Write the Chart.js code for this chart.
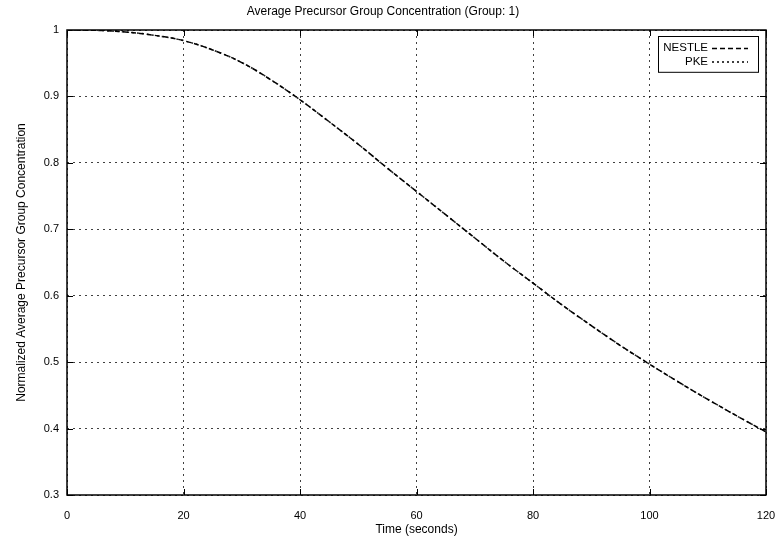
<!DOCTYPE html>
<html>
<head>
<meta charset="utf-8">
<script src="https://cdn.jsdelivr.net/npm/chart.js@4"></script>
<style>
  body { margin: 0; background: #fff; }
  canvas { display: block; }
</style>
</head>
<body>
<canvas id="chart" width="778" height="544"></canvas>
<script>
// Data
const timeSeconds = [0, 5, 10, 15, 20, 25, 30, 35, 40, 45, 50, 55, 60, 65, 70, 75, 80, 85, 90, 95, 100, 105, 110, 115, 120];
const nestleValues = [1.000, 0.9995, 0.997, 0.992, 0.984, 0.970, 0.951, 0.925, 0.895, 0.862, 0.828, 0.792, 0.757, 0.722, 0.687, 0.652, 0.619, 0.586, 0.555, 0.525, 0.497, 0.470, 0.444, 0.419, 0.395];
const pkeValues = [1.000, 0.9995, 0.997, 0.992, 0.984, 0.970, 0.951, 0.925, 0.895, 0.862, 0.828, 0.792, 0.757, 0.722, 0.687, 0.652, 0.619, 0.586, 0.555, 0.525, 0.497, 0.470, 0.444, 0.419, 0.395];
const xTickValues = [0, 20, 40, 60, 80, 100, 120];
const yTickValues = [0.3, 0.4, 0.5, 0.6, 0.7, 0.8, 0.9, 1];

const FONT = "'Liberation Sans', Arial, Helvetica, sans-serif";

function toPoints(xs, ys) {
    return xs.map((x, i) => ({ x: x, y: ys[i] }));
}

// Frame around the plot plus gnuplot-style inward ticks
const frameAndTicks = {
    id: "frameAndTicks",
    beforeDatasetsDraw(chart) {
        const { ctx, chartArea: a, scales } = chart;
        ctx.save();
        ctx.strokeStyle = "#000";
        ctx.lineWidth = 1.5;
        ctx.setLineDash([]);
        ctx.strokeRect(a.left, a.top, a.right - a.left, a.bottom - a.top);
        ctx.lineWidth = 1;
        const len = 6;
        ctx.beginPath();
        xTickValues.forEach((v) => {
            const px = Math.round(scales.x.getPixelForValue(v)) + 0.5;
            ctx.moveTo(px, a.bottom);
            ctx.lineTo(px, a.bottom - len);
            ctx.moveTo(px, a.top);
            ctx.lineTo(px, a.top + len);
        });
        yTickValues.forEach((v) => {
            const py = Math.round(scales.y.getPixelForValue(v)) + 0.5;
            ctx.moveTo(a.left, py);
            ctx.lineTo(a.left + len, py);
            ctx.moveTo(a.right, py);
            ctx.lineTo(a.right - len, py);
        });
        ctx.stroke();
        ctx.restore();
    },
};

// Legend box in the top right corner: label, then line sample
const keyBox = {
    id: "keyBox",
    afterDraw(chart) {
        const { ctx, chartArea: a } = chart;
        const boxRight = a.right - 8;
        const boxLeft = boxRight - 100;
        const boxTop = a.top + 6;
        const rowH = 13.4;
        const sets = chart.data.datasets;
        ctx.save();
        ctx.strokeStyle = "#000";
        ctx.lineWidth = 1;
        ctx.setLineDash([]);
        ctx.fillStyle = "#fff";
        ctx.fillRect(boxLeft, boxTop, boxRight - boxLeft, rowH * sets.length + 9);
        ctx.strokeRect(boxLeft + 0.5, boxTop + 0.5, boxRight - boxLeft, rowH * sets.length + 9);
        ctx.font = "11.5px " + FONT;
        ctx.textAlign = "right";
        ctx.textBaseline = "middle";
        sets.forEach((ds, i) => {
            const y = boxTop + 12 + i * rowH;
            ctx.fillStyle = "#000";
            ctx.fillText(ds.label, boxRight - 50, y);
            ctx.beginPath();
            ctx.setLineDash(ds.borderDash);
            ctx.lineWidth = ds.borderWidth;
            ctx.moveTo(boxRight - 46, y + 0.5);
            ctx.lineTo(boxRight - 10, y + 0.5);
            ctx.stroke();
        });
        ctx.restore();
    },
};

const chart = new Chart(document.getElementById("chart"), {
    type: "line",
    data: {
        datasets: [
            {
                label: "NESTLE",
                data: toPoints(timeSeconds, nestleValues),
                borderColor: "#000",
                borderWidth: 1.5,
                borderDash: [5, 3],
                pointRadius: 0,
                tension: 0.4,
                fill: false,
            },
            {
                label: "PKE",
                data: toPoints(timeSeconds, pkeValues),
                borderColor: "#222",
                borderWidth: 1.5,
                borderDash: [2, 3],
                pointRadius: 0,
                tension: 0.4,
                fill: false,
            },
        ],
    },
    options: {
        responsive: false,
        animation: false,
        layout: { padding: { left: 0, right: 12, top: 0, bottom: 0 } },
        plugins: {
            legend: { display: false },
            tooltip: { enabled: false },
            title: {
                display: true,
                text: "Average Precursor Group Concentration (Group: 1)",
                color: "#000",
                font: { family: FONT, size: 12, weight: "normal", lineHeight: 1.2 },
                padding: { top: 4, bottom: 11.6 },
            },
        },
        scales: {
            x: {
                type: "linear",
                min: 0,
                max: 120,
                afterBuildTicks: (scale) => {
                    scale.ticks = xTickValues.map((v) => ({ value: v }));
                },
                afterFit: (scale) => {
                    scale.height = 49;
                    scale.paddingLeft = 0;
                    scale.paddingRight = 0;
                },
                grid: { color: "rgba(0,0,0,0.75)", lineWidth: 1, drawTicks: false },
                border: { display: false, dash: [2, 4] },
                ticks: { color: "#000", padding: 14, maxRotation: 0, font: { family: FONT, size: 11 } },
                title: {
                    display: true,
                    text: "Time (seconds)",
                    color: "#000",
                    font: { family: FONT, size: 12 },
                    padding: { top: 0, bottom: 7 },
                },
            },
            y: {
                type: "linear",
                min: 0.3,
                max: 1,
                afterBuildTicks: (scale) => {
                    scale.ticks = yTickValues.map((v) => ({ value: v }));
                },
                afterFit: (scale) => {
                    scale.width = 67;
                },
                grid: { color: "rgba(0,0,0,0.75)", lineWidth: 1, drawTicks: false },
                border: { display: false, dash: [2, 4] },
                ticks: {
                    color: "#000",
                    padding: 8,
                    font: { family: FONT, size: 11 },
                    callback: (v) => String(Math.round(v * 10) / 10),
                },
                title: {
                    display: true,
                    text: "Normalized Average Precursor Group Concentration",
                    color: "#000",
                    font: { family: FONT, size: 12 },
                    padding: { top: 14, bottom: 0 },
                },
            },
        },
    },
    plugins: [frameAndTicks, keyBox],
});
</script>
</body>
</html>
